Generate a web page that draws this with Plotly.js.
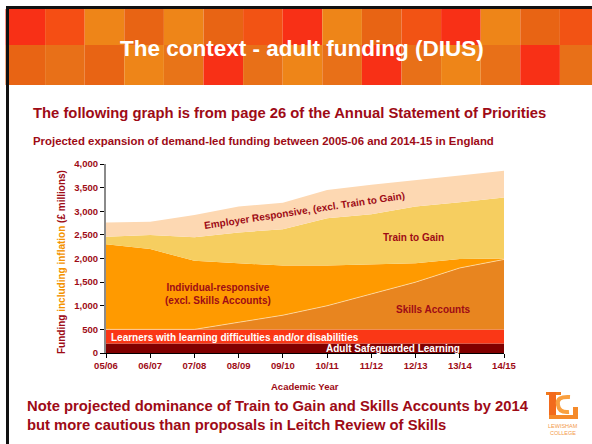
<!DOCTYPE html>
<html>
<head>
<meta charset="utf-8">
<script src="https://cdn.plot.ly/plotly-3.0.1.min.js"></script>
<style>
	html, body { margin: 0; padding: 0; background: #fff; }
	#chart { width: 592px; height: 444px; }
</style>
</head>
<body>
<div id="chart"></div>
<script>
(function () {

	'use strict';

	/**
	* Data (£ millions per layer, stacked)
	*/
	const years = ['05/06', '06/07', '07/08', '08/09', '09/10', '10/11', '11/12', '12/13', '13/14', '14/15'];
	const adultSafeguarded = [200, 200, 200, 200, 200, 200, 200, 200, 200, 200];
	const lldd = [300, 300, 300, 300, 300, 300, 300, 300, 300, 300];
	const skillsAccounts = [0, 0, 0, 150, 300, 500, 750, 1000, 1300, 1480];
	const individualResp = [1800, 1700, 1450, 1250, 1050, 850, 630, 400, 190, 20];
	const trainToGain = [160, 300, 500, 650, 770, 1000, 1055, 1200, 1200, 1290];
	const employerResp = [300, 280, 470, 550, 560, 600, 625, 565, 565, 565];
	const yTicks = [0, 500, 1000, 1500, 2000, 2500, 3000, 3500, 4000];

	// header tiles, two rows of coloured squares
	const tilesTop = ['#F83016', '#F54E14', '#EE8518', '#E86414', '#EE8518', '#E86414', '#F25314', '#F83016',
		'#EE8518', '#E86414', '#F25314', '#F83016', '#EE8518', '#E86414', '#F25314'];
	const tilesBottom = ['#E86414', '#E87018', '#E86414', '#EE8518', '#E87418', '#F83016', '#E87018', '#EE8518',
		'#E87018', '#F83016', '#E87018', '#EE8518', '#E87018', '#F83016', '#E87018'];

	const darkRed = '#9E0B16';
	const font = 'Liberation Sans, Arial, sans-serif';

	/**
	* plot area in pixels - helpers convert page px to paper coords
	*/
	const plot = { l: 106, r: 504, t: 164, b: 353 };
	const px = ( x ) => ( x - plot.l ) / ( plot.r - plot.l );
	const py = ( y ) => ( plot.b - y ) / ( plot.b - plot.t );

	/**
	* Build a stacked area trace
	*/
	const area = ( name, y, color, line ) => ({
		x: years,
		y: y,
		name: name,
		type: 'scatter',
		mode: 'lines',
		stackgroup: 'funding',
		fillcolor: color,
		line: line || { width: 0, color: color },
		hoverinfo: 'skip',
	});

	const data = [
		area('Adult Safeguarded Learning', adultSafeguarded, '#800000'),
		area('LLDD', lldd, '#FA3716'),
		area('Skills Accounts', skillsAccounts, '#E8851F', { width: 0.8, color: 'rgba(255,235,200,0.8)' }),
		area('Individual-responsive', individualResp, '#FF9A00'),
		area('Train to Gain', trainToGain, '#F6CE60'),
		area('Employer Responsive', employerResp, '#FDD8B2'),
	];

	/**
	* Shapes: slide frame, header tiles, logo
	*/
	const shapes = [];
	const rectPx = ( x0, y0, x1, y1, color ) => {
		shapes.push({
			type: 'rect', xref: 'paper', yref: 'paper', layer: 'below',
			x0: px(x0), x1: px(x1), y0: py(y0), y1: py(y1),
			fillcolor: color, line: { width: 0 },
		});
	};

	tilesTop.forEach(( c, i ) => rectPx( 5.5 + i * 39.6, 9, 5.5 + ( i + 1 ) * 39.6, 45, c ));
	tilesBottom.forEach(( c, i ) => rectPx( 5.5 + i * 39.6, 45, 5.5 + ( i + 1 ) * 39.6, 85, c ));

	// frame
	rectPx( 6, 6, 592, 9, '#111' );
	rectPx( 6, 6, 9, 444, '#111' );

	// logo (rough L + C)
	rectPx( 546, 392, 561, 395, '#F07A1E' );
	rectPx( 549, 392, 556, 419, '#F26A1C' );
	rectPx( 549, 415, 578, 419, '#F58A2A' );
	rectPx( 573, 407, 578, 419, '#F58A2A' );
	shapes.push({
		type: 'path', xref: 'paper', yref: 'paper',
		path: `M ${px(570)} ${py(397)} Q ${px(556)} ${py(396)} ${px(558)} ${py(405)} Q ${px(559)} ${py(413)} ${px(569)} ${py(412)}`,
		line: { color: '#F9A040', width: 4 },
	});

	/**
	* Annotations: slide texts and in-chart labels
	*/
	const note = ( text, x, y, size, color, extra ) => Object.assign({
		text: text,
		xref: 'paper', yref: 'paper',
		x: px(x), y: py(y),
		xanchor: 'center',
		yanchor: 'middle',
		showarrow: false,
		font: { family: font, size: size, color: color, weight: 'bold' },
	}, extra || {});

	const logoFont = { family: font, size: 5.5, color: '#F39A4A' };

	const annotations = [
		note('The context - adult funding (DIUS)', 302, 48, 22.5, '#FFFFFF'),
		note('The following graph is from page 26 of the Annual Statement of Priorities', 31, 113, 14.8, darkRed, { xanchor: 'left' }),
		note('Projected expansion of demand-led funding between 2005-06 and 2014-15 in England', 31, 141, 11.4, darkRed, { xanchor: 'left' }),
		note('Employer Responsive, (excl. Train to Gain)', 304, 210, 10, darkRed, { textangle: -8.6 }),
		note('Train to Gain', 413, 237, 10, darkRed),
		note('Individual-responsive<br>(excl. Skills Accounts)', 218, 294, 10, darkRed),
		note('Skills Accounts', 433, 309, 10, darkRed),
		note('Learners with learning difficulties and/or disabilities', 109, 337, 10, '#FFFFFF', { xanchor: 'left' }),
		note('Adult Safeguarded Learning', 393, 348.5, 10, '#FFFFFF'),
		note('Funding <span style="color:#F39200">including inflation</span> (£ millions)', 61, 262, 10, darkRed, { textangle: -90 }),
		note('Academic Year', 305, 386, 9.5, darkRed),
		note('Note projected dominance of Train to Gain and Skills Accounts by 2014<br>but more cautious than proposals in Leitch Review of Skills',
			25, 415, 14.8, darkRed, { xanchor: 'left', align: 'left' }),
		note('LEWISHAM', 563, 426, 5.5, '#F39A4A', { font: logoFont }),
		note('COLLEGE', 563, 432.5, 5.5, '#F39A4A', { font: logoFont }),
	];

	const tickFont = { family: font, size: 9.5, color: darkRed, weight: 'bold' };

	const layout = {
		width: 592,
		height: 444,
		margin: { l: plot.l, r: 592 - plot.r, t: plot.t, b: 444 - plot.b, pad: 0 },
		paper_bgcolor: '#FFFFFF',
		plot_bgcolor: '#FFFFFF',
		showlegend: false,
		xaxis: {
			type: 'category',
			range: [0, years.length - 1],
			showgrid: false,
			zeroline: false,
			showline: true,
			linecolor: '#000',
			linewidth: 1,
			ticks: 'outside',
			ticklen: 4,
			tickcolor: '#000',
			tickfont: tickFont,
		},
		yaxis: {
			range: [0, 4000],
			tickvals: yTicks,
			tickformat: ',d',
			showgrid: false,
			zeroline: false,
			showline: true,
			linecolor: '#8a8a8a',
			linewidth: 2,
			ticks: 'outside',
			ticklen: 4,
			tickcolor: '#000',
			tickfont: tickFont,
		},
		shapes: shapes,
		annotations: annotations,
	};

	Plotly.newPlot('chart', data, layout, { displayModeBar: false, staticPlot: true });

})();
</script>
</body>
</html>
